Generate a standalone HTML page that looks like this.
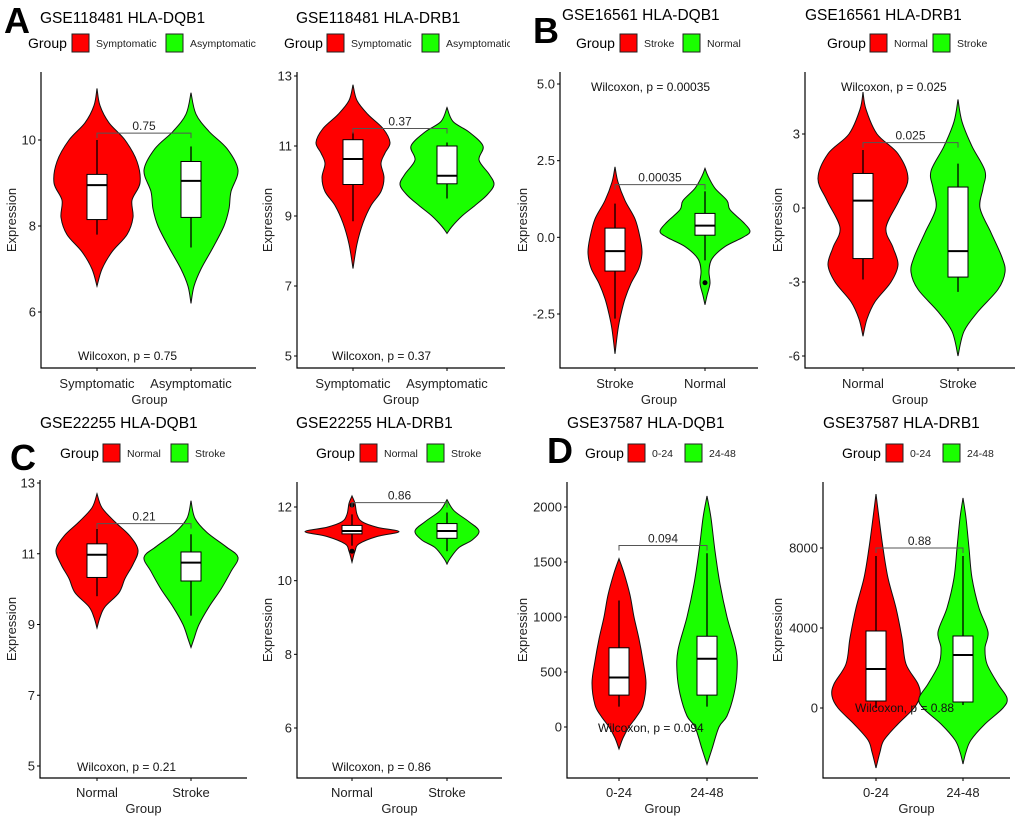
<!DOCTYPE html>
<html><head><meta charset="utf-8"><style>
html,body{margin:0;padding:0;background:#fff}
svg{display:block;font-family:"Liberation Sans",Arial,sans-serif}
</style></head><body>
<svg id="fig" width="1020" height="817" viewBox="0 0 1020 817" xmlns="http://www.w3.org/2000/svg">
<defs>
<clipPath id="clipA1"><rect x="0" y="0" width="256" height="410"/></clipPath>
<clipPath id="clipA2"><rect x="256" y="0" width="254" height="410"/></clipPath>
<clipPath id="clipAll"><rect x="0" y="0" width="1020" height="817"/></clipPath>
</defs>
<text x="4" y="33" font-size="36" font-weight="bold">A</text>
<text x="533" y="43" font-size="36" font-weight="bold">B</text>
<text x="10" y="470" font-size="36" font-weight="bold">C</text>
<text x="547" y="463" font-size="36" font-weight="bold">D</text>
</svg>
<script>
// ---------- DATA ----------
// A1 GSE118481 HLA-DQB1
const a1_cats = ["Symptomatic","Asymptomatic"];
const a1_ticks = [6,8,10];
const a1_red_vals = [11.2,10.8,10.4,10.0,9.5,9.0,8.6,8.2,7.8,7.4,7.0,6.6];
const a1_red_dens = [0,3,12,28,40,43,35,36,30,15,5,0];
const a1_green_vals = [11.1,10.6,10.2,9.8,9.3,8.8,8.4,8.0,7.5,7.0,6.6,6.2];
const a1_green_dens = [0,5,18,36,47,40,38,33,22,10,3,0];
const a1_red_box = [7.8,8.15,8.95,9.2,10.0];
const a1_green_box = [7.5,8.2,9.05,9.5,9.85];
const a1_outliers = [[],[]];
const a1_bracket = 10.16; const a1_p = "0.75";
// A2 GSE118481 HLA-DRB1
const a2_cats = ["Symptomatic","Asymptomatic"];
const a2_ticks = [5,7,9,11,13];
const a2_red_vals = [12.75,12.3,11.9,11.5,11.1,10.8,10.5,10.1,9.7,9.3,8.8,8.2,7.5];
const a2_red_dens = [0,4,15,30,37,32,28,31,28,18,10,4,0];
const a2_green_vals = [12.1,11.7,11.4,11.0,10.6,10.2,9.9,9.6,9.3,9.0,8.7,8.5];
const a2_green_dens = [0,6,22,36,32,42,47,40,28,15,5,0];
const a2_red_box = [8.85,9.9,10.63,11.18,11.4];
const a2_green_box = [9.5,9.92,10.15,11.0,11.1];
const a2_outliers = [[],[]];
const a2_bracket = 11.5; const a2_p = "0.37";
// B1 GSE16561 HLA-DQB1
const b1_cats = ["Stroke","Normal"];
const b1_ticks = [-2.5,0.0,2.5,5.0];
const b1_tick_labels = ["-2.5","0.0","2.5","5.0"];
const b1_red_vals = [2.3,1.8,1.2,0.6,0,-0.5,-1.0,-1.5,-2.0,-2.5,-3.0,-3.8];
const b1_red_dens = [0,3,10,20,25,27,24,16,10,6,3,0];
const b1_green_vals = [2.25,2.0,1.6,1.2,0.9,0.5,0.2,0.0,-0.3,-0.7,-1.1,-1.5,-1.9,-2.2];
const b1_green_dens = [0,3,10,22,25,38,45,38,20,7,4,5,2,0];
const b1_red_box = [-2.65,-1.1,-0.45,0.3,1.1];
const b1_green_box = [-0.75,0.07,0.38,0.78,1.5];
const b1_outliers = [[],[-1.48]];
const b1_bracket = 1.72; const b1_p = "0.00035";
// B2 GSE16561 HLA-DRB1
const b2_cats = ["Normal","Stroke"];
const b2_ticks = [-6,-3,0,3];
const b2_red_vals = [4.7,4.0,3.0,2.2,1.2,0.3,-0.8,-1.6,-2.3,-3.0,-3.8,-4.5,-5.2];
const b2_red_dens = [0,3,14,35,45,36,23,30,35,28,12,4,0];
const b2_green_vals = [4.4,3.5,2.5,1.5,0.8,0,-1.0,-2.0,-2.6,-3.3,-4.2,-5.0,-6.0];
const b2_green_dens = [0,4,14,27,25,22,33,44,47,40,20,6,0];
const b2_red_box = [-2.9,-2.05,0.3,1.4,2.35];
const b2_green_box = [-3.4,-2.8,-1.75,0.85,1.8];
const b2_outliers = [[],[]];
const b2_bracket = 2.65; const b2_p = "0.025";
// C1 GSE22255 HLA-DQB1
const c1_cats = ["Normal","Stroke"];
const c1_ticks = [5,7,9,11,13];
const c1_red_vals = [12.7,12.3,11.9,11.5,11.1,10.7,10.3,9.9,9.5,9.2,8.9];
const c1_red_dens = [0,5,18,33,41,36,28,22,8,3,0];
const c1_green_vals = [12.5,12.0,11.6,11.2,10.9,10.5,10.0,9.5,9.0,8.6,8.35];
const c1_green_dens = [0,4,16,35,47,40,30,18,8,3,0];
const c1_red_box = [9.8,10.33,10.97,11.28,11.7];
const c1_green_box = [9.25,10.23,10.75,11.05,11.55];
const c1_outliers = [[],[]];
const c1_bracket = 11.85; const c1_p = "0.21";
// C2 GSE22255 HLA-DRB1
const c2_cats = ["Normal","Stroke"];
const c2_ticks = [6,8,10,12];
const c2_red_vals = [12.3,12.1,11.8,11.6,11.45,11.33,11.2,11.0,10.8,10.5];
const c2_red_dens = [0,3,5,10,25,47,25,7,3,0];
const c2_green_vals = [12.2,11.9,11.6,11.35,11.1,10.9,10.6,10.45];
const c2_green_dens = [0,7,22,32,25,12,3,0];
const c2_red_box = [10.95,11.27,11.35,11.5,11.8];
const c2_green_box = [10.8,11.15,11.35,11.55,11.85];
const c2_outliers = [[12.05,10.8],[]];
const c2_bracket = 12.12; const c2_p = "0.86";
// D1 GSE37587 HLA-DQB1
const d1_cats = ["0-24","24-48"];
const d1_ticks = [0,500,1000,1500,2000];
const d1_red_vals = [1530,1400,1200,1000,800,600,400,200,100,0,-100,-200];
const d1_red_dens = [0,5,11,15,20,24,27,24,18,10,4,0];
const d1_green_vals = [2100,1900,1600,1300,1000,700,500,300,100,0,-200,-340];
const d1_green_dens = [0,4,8,13,20,29,30,27,20,12,5,0];
const d1_red_box = [185,290,450,720,1150];
const d1_green_box = [185,290,620,825,1580];
const d1_outliers = [[],[]];
const d1_bracket = 1650; const d1_p = "0.094";
// D2 GSE37587 HLA-DRB1
const d2_cats = ["0-24","24-48"];
const d2_ticks = [0,4000,8000];
const d2_red_vals = [10700,9500,8000,6500,5000,3500,2200,1200,600,0,-800,-1600,-2200,-3000];
const d2_red_dens = [0,3,7,12,20,26,30,42,44,38,22,8,4,0];
const d2_green_vals = [10500,9500,8000,6500,5000,3800,3000,2200,1200,500,0,-800,-1600,-2200,-2800];
const d2_green_dens = [0,3,6,9,16,25,22,24,35,44,40,22,8,3,0];
const d2_red_box = [0,350,1950,3850,7600];
const d2_green_box = [150,300,2650,3600,7600];
const d2_outliers = [[],[]];
const d2_bracket = 8000; const d2_p = "0.88";

// ---------- LAYOUT ----------
const NS = "http://www.w3.org/2000/svg";
const svg = document.getElementById('fig');
function mk(tag, attrs, parent){ const e=document.createElementNS(NS,tag); for(const k in attrs) e.setAttribute(k,attrs[k]); (parent||svg).appendChild(e); return e; }
function txt(s, attrs, parent){ const e=mk('text',attrs,parent); e.textContent=s; return e; }

const panels = [
 {id:'a1', title:'GSE118481 HLA-DQB1', clip:'clipA1', tx:40, ty:23, axisX:41, top:72, bot:368, right:258, v1:10,p1:140,v2:6,p2:312, cx:[97,191], catY:388, grpY:404, exprX:16,
  legX:28, legY:43, boxes:[72,166], wil:['Wilcoxon, p = 0.75',78,360],
  cats:a1_cats, ticks:a1_ticks, rv:a1_red_vals, rd:a1_red_dens, gv:a1_green_vals, gd:a1_green_dens, rb:a1_red_box, gb:a1_green_box, out:a1_outliers, br:a1_bracket, p:a1_p},
 {id:'a2', title:'GSE118481 HLA-DRB1', clip:'clipA2', tx:296, ty:23, axisX:297, top:72, bot:368, right:505, v1:13,p1:76,v2:5,p2:356, cx:[353,447], catY:388, grpY:404, exprX:272,
  legX:284, legY:43, boxes:[327,422], wil:['Wilcoxon, p = 0.37',332,360],
  cats:a2_cats, ticks:a2_ticks, rv:a2_red_vals, rd:a2_red_dens, gv:a2_green_vals, gd:a2_green_dens, rb:a2_red_box, gb:a2_green_box, out:a2_outliers, br:a2_bracket, p:a2_p},
 {id:'b1', title:'GSE16561 HLA-DQB1', clip:'clipAll', tx:562, ty:20, axisX:560, top:72, bot:368, right:758, v1:5,p1:84,v2:-2.5,p2:314, cx:[615,705], catY:388, grpY:404, exprX:527,
  legX:576, legY:43, boxes:[620,683], wil:['Wilcoxon, p = 0.00035',591,91], labels:b1_tick_labels,
  cats:b1_cats, ticks:b1_ticks, rv:b1_red_vals, rd:b1_red_dens, gv:b1_green_vals, gd:b1_green_dens, rb:b1_red_box, gb:b1_green_box, out:b1_outliers, br:b1_bracket, p:b1_p},
 {id:'b2', title:'GSE16561 HLA-DRB1', clip:'clipAll', tx:805, ty:20, axisX:805, top:72, bot:368, right:1015, v1:3,p1:134,v2:-6,p2:356, cx:[863,958], catY:388, grpY:404, exprX:782,
  legX:827, legY:43, boxes:[870,933], wil:['Wilcoxon, p = 0.025',841,91],
  cats:b2_cats, ticks:b2_ticks, rv:b2_red_vals, rd:b2_red_dens, gv:b2_green_vals, gd:b2_green_dens, rb:b2_red_box, gb:b2_green_box, out:b2_outliers, br:b2_bracket, p:b2_p},
 {id:'c1', title:'GSE22255 HLA-DQB1', clip:'clipAll', tx:40, ty:428, axisX:40, top:480, bot:778, right:247, v1:13,p1:483,v2:5,p2:766, cx:[97,191], catY:797, grpY:813, exprX:16,
  legX:60, legY:453, boxes:[103,171], wil:['Wilcoxon, p = 0.21',77,771],
  cats:c1_cats, ticks:c1_ticks, rv:c1_red_vals, rd:c1_red_dens, gv:c1_green_vals, gd:c1_green_dens, rb:c1_red_box, gb:c1_green_box, out:c1_outliers, br:c1_bracket, p:c1_p},
 {id:'c2', title:'GSE22255 HLA-DRB1', clip:'clipAll', tx:296, ty:428, axisX:297, top:482, bot:778, right:502, v1:12,p1:507,v2:6,p2:728, cx:[352,447], catY:797, grpY:813, exprX:272,
  legX:316, legY:453, boxes:[360,427], wil:['Wilcoxon, p = 0.86',332,771],
  cats:c2_cats, ticks:c2_ticks, rv:c2_red_vals, rd:c2_red_dens, gv:c2_green_vals, gd:c2_green_dens, rb:c2_red_box, gb:c2_green_box, out:c2_outliers, br:c2_bracket, p:c2_p},
 {id:'d1', title:'GSE37587 HLA-DQB1', clip:'clipAll', tx:567, ty:428, axisX:567, top:482, bot:778, right:758, v1:2000,p1:507,v2:0,p2:727, cx:[619,707], catY:797, grpY:813, exprX:527,
  legX:585, legY:453, boxes:[628,685], wil:['Wilcoxon, p = 0.094',598,732],
  cats:d1_cats, ticks:d1_ticks, rv:d1_red_vals, rd:d1_red_dens, gv:d1_green_vals, gd:d1_green_dens, rb:d1_red_box, gb:d1_green_box, out:d1_outliers, br:d1_bracket, p:d1_p},
 {id:'d2', title:'GSE37587 HLA-DRB1', clip:'clipAll', tx:823, ty:428, axisX:823, top:482, bot:778, right:1010, v1:8000,p1:548,v2:0,p2:708, cx:[876,963], catY:797, grpY:813, exprX:782,
  legX:842, legY:453, boxes:[886,943], wil:['Wilcoxon, p = 0.88',855,712],
  cats:d2_cats, ticks:d2_ticks, rv:d2_red_vals, rd:d2_red_dens, gv:d2_green_vals, gd:d2_green_dens, rb:d2_red_box, gb:d2_green_box, out:d2_outliers, br:d2_bracket, p:d2_p}
];

function smoothPath(pts){
  // Catmull-Rom to cubic bezier
  let d = `M${pts[0][0].toFixed(2)},${pts[0][1].toFixed(2)}`;
  for(let i=0;i<pts.length-1;i++){
    const p0=pts[Math.max(0,i-1)], p1=pts[i], p2=pts[i+1], p3=pts[Math.min(pts.length-1,i+2)];
    const c1=[p1[0]+(p2[0]-p0[0])/6, p1[1]+(p2[1]-p0[1])/6];
    const c2=[p2[0]-(p3[0]-p1[0])/6, p2[1]-(p3[1]-p1[1])/6];
    d += ` C${c1[0].toFixed(2)},${c1[1].toFixed(2)} ${c2[0].toFixed(2)},${c2[1].toFixed(2)} ${p2[0].toFixed(2)},${p2[1].toFixed(2)}`;
  }
  return d;
}

panels.forEach(P=>{
  const y = v => P.p1 + (v-P.v1)*(P.p2-P.p1)/(P.v2-P.v1);
  const g = mk('g',{'clip-path':`url(#${P.clip})`});
  
  

  const t = txt(P.title,{x:P.tx,y:P.ty,'font-size':15.5,fill:'#000'},g);
  
  

  // legend
  const lg = mk('g',{},g);
  
  
  txt('Group',{x:P.legX,y:P.legY+5,'font-size':14},lg);
  const cols=['#ff0000','#1aff00'];
  P.boxes.forEach((bx,i)=>{
    const r = mk('rect',{x:bx,y:P.legY-9,width:17,height:18,fill:cols[i],stroke:'#222','stroke-width':1},lg);
    
    
    const lt = txt(P.cats[i],{x:bx+24,y:P.legY+4,'font-size':10.5,fill:'#222'},lg);
    
    
  });

  // axes
  const ax = mk('path',{d:`M${P.axisX},${P.top} V${P.bot} H${P.right}`,fill:'none',stroke:'#000','stroke-width':1.2},g);
  
  
  P.ticks.forEach((tv,i)=>{
    const ty=y(tv);
    mk('line',{x1:P.axisX-3,x2:P.axisX,y1:ty,y2:ty,stroke:'#000','stroke-width':1},g);
    const lab = P.labels ? P.labels[i] : String(tv);
    const tl = txt(lab,{x:P.axisX-5,y:ty+4.5,'font-size':13,'text-anchor':'end',fill:'#222'},g);
    
    
  });
  P.cats.forEach((c,i)=>{
    mk('line',{x1:P.cx[i],x2:P.cx[i],y1:P.bot,y2:P.bot+3,stroke:'#000','stroke-width':1},g);
    const cl = txt(c,{x:P.cx[i],y:P.catY,'font-size':13,'text-anchor':'middle',fill:'#222'},g);
    
    
  });
  const xt = txt('Group',{x:(P.axisX+P.right)/2,y:P.grpY,'font-size':13,'text-anchor':'middle',fill:'#222'},g);
  
  
  const my=(P.top+P.bot)/2;
  const yt = txt('Expression',{x:P.exprX,y:my,'font-size':13,'text-anchor':'middle',transform:`rotate(-90 ${P.exprX} ${my})`,fill:'#222'},g);
  
  

  // violins + boxes
  const series=[[P.rv,P.rd,P.rb],[P.gv,P.gd,P.gb]];
  series.forEach((s,i)=>{
    const cx=P.cx[i];
    const right = s[0].map((v,k)=>[cx+s[1][k], y(v)]);
    const left = s[0].map((v,k)=>[cx-s[1][k], y(v)]).reverse();
    const d = smoothPath(right) + ' ' + smoothPath(left).replace(/^M/,'L') + ' Z';
    const vp = mk('path',{d:d,fill:cols[i],stroke:'#111','stroke-width':1},g);
    
    
    const b=s[2], hw=10;
    mk('line',{x1:cx,x2:cx,y1:y(b[0]),y2:y(b[4]),stroke:'#000','stroke-width':1.3},g);
    const bx = mk('rect',{x:cx-hw,y:y(b[3]),width:2*hw,height:y(b[1])-y(b[3]),fill:'#fff',stroke:'#000','stroke-width':1},g);
    
    
    mk('line',{x1:cx-hw,x2:cx+hw,y1:y(b[2]),y2:y(b[2]),stroke:'#000','stroke-width':2},g);
    P.out[i].forEach(o=>{
      const c = mk('circle',{cx:cx,cy:y(o),r:2.5,fill:'#000'},g);
      
      
    });
  });

  // bracket
  const by=y(P.br);
  const bp = mk('path',{d:`M${P.cx[0]},${by+5} V${by} H${P.cx[1]} V${by+5}`,fill:'none',stroke:'#555','stroke-width':1},g);
  
  
  const pl = txt(P.p,{x:(P.cx[0]+P.cx[1])/2,y:by-3,'font-size':12,'text-anchor':'middle',fill:'#222'},g);
  
  

  const w = txt(P.wil[0],{x:P.wil[1],y:P.wil[2],'font-size':12,fill:'#111'},g);
  
  
});
</script>
</body></html>
